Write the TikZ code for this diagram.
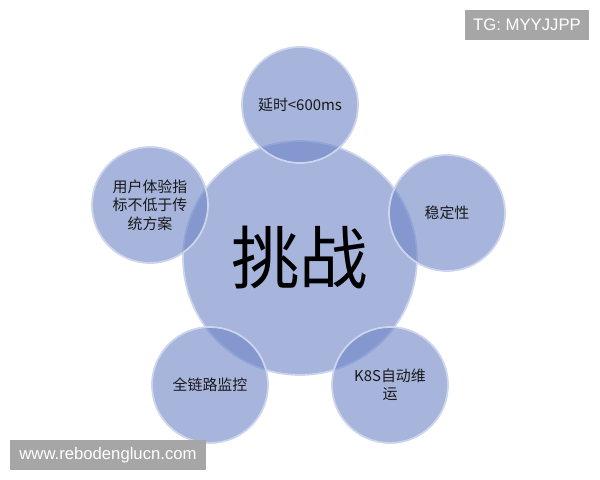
\documentclass[tikz,border=0pt]{standalone}
\usepackage{fontspec}
\setmainfont{Liberation Sans}
\newfontfamily\cjk{Noto Sans CJK SC}
\usepackage{tikz}
\usetikzlibrary{positioning}
\definecolor{bubble}{HTML}{6C84C6}
\definecolor{rim}{HTML}{CDD5EC}
\definecolor{mark}{HTML}{A6A6A6}

\begin{document}
\begin{tikzpicture}[x=0.02cm, y=-0.02cm,
    core/.style={circle, fill=bubble, fill opacity=0.6, text opacity=1,
                 draw=rim, draw opacity=1, line width=1pt,
                 minimum size=4.68cm, inner sep=0pt,
                 font=\cjk\fontsize{39}{39}\selectfont, text=black},
    %% satellite bubbles, all the same size
    sat/.style={circle, fill=bubble, fill opacity=0.6, text opacity=1,
                draw=rim, draw opacity=1, line width=1pt,
                minimum size=2.32cm, inner sep=0pt, align=center,
                font=\cjk\fontsize{8.5}{10.5}\selectfont, text=black!90},
    tag/.style={rectangle, fill=mark, text=white, inner sep=0pt,
                font=\fontsize{9.5}{11}\selectfont},
]
  \useasboundingbox (0,0) rectangle (600,480);

  %% ---- centre ----
  \node[core] (challenge) at (300,258) {挑战};

  %% ---- five satellites round it ----
  \node[sat] (latency)   at (300,105) {延时<600ms};
  \node[sat] (stability) at (447,213) {稳定性};
  \node[sat] (k8s)       at (390,385) {K8S自动维\\运};
  \node[sat] (monitor)   at (210,385) {全链路监控};
  \node[sat] (ux)        at (150,205) {用户体验指\\标不低于传\\统方案};

  %% ---- watermarks ----
  \node[tag, minimum width=2.5cm, minimum height=0.6cm] (tg) at (527,25) {TG: MYYJJPP};
  \node[tag, minimum width=3.94cm, minimum height=0.6cm] (site) at (108,455) {www.rebodenglucn.com};

\end{tikzpicture}
\end{document}
